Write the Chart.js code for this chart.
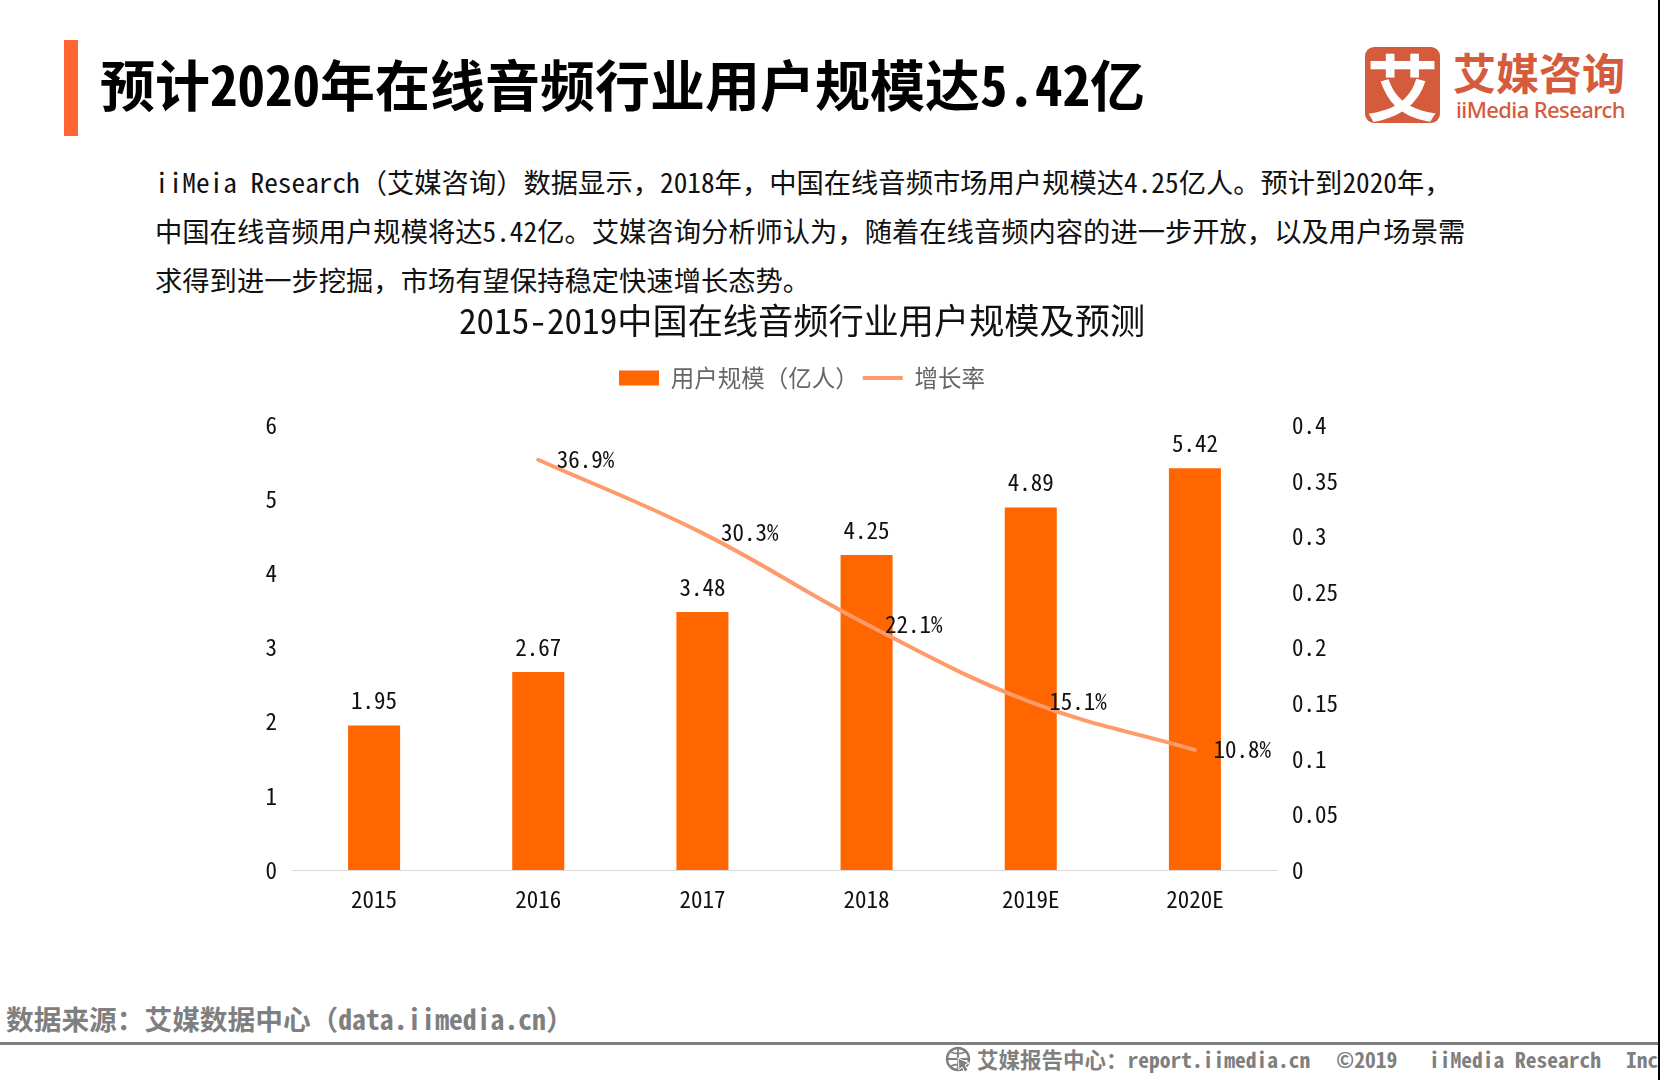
<!DOCTYPE html>
<html>
<head>
<meta charset="utf-8">
<title>2015-2019中国在线音频行业用户规模及预测</title>
<script src="https://cdn.jsdelivr.net/npm/chart.js@4/dist/chart.umd.min.js"></script>
<style>
html, body { margin: 0; padding: 0; background: #fff; }
body { width: 1660px; height: 1080px; position: relative; overflow: hidden; font-family: "Noto Sans Mono CJK SC", "Noto Sans CJK SC", sans-serif; }
.t { position: absolute; white-space: nowrap; }
#bar { position: absolute; left: 64px; top: 40px; width: 14px; height: 96px; background: #ff6633; }
#head { left: 100px; top: 49px; font-size: 55px; line-height: 66px; font-weight: 700; color: #000; }
.body { left: 155px; font-size: 27.3px; line-height: 34px; color: #111; }
#logoBox { position: absolute; left: 1365px; top: 47px; width: 75px; height: 76px; border-radius: 9px; background: #d45b3c; color: #fff; font: 700 72px/74px "Noto Sans CJK SC", sans-serif; text-align: center; }
#logoCn { left: 1453px; top: 42px; font: 700 43px/58px "Noto Sans CJK SC", sans-serif; color: #d45b3c; }
#logoEn { left: 1456px; top: 93px; font: 500 22px/32px "Noto Sans", sans-serif; color: #d45b3c; letter-spacing: -0.6px; }
#chart { position: absolute; left: 0; top: 300px; }
#src { left: 6px; top: 999px; font-size: 27.7px; line-height: 38px; font-weight: 700; color: #7f7f7f; }
#rule { position: absolute; left: 0; top: 1042px; width: 1658px; height: 3px; background: #808080; }
.foot { top: 1045px; font-size: 21.5px; line-height: 28px; font-weight: 700; color: #7f7f7f; }
#edge { position: absolute; left: 1658px; top: 0; width: 2px; height: 1080px; background: #000; }
#globe { position: absolute; left: 945px; top: 1046px; }
</style>
</head>
<body>
<div id="bar"></div>
<div class="t" id="head">预计2020年在线音频行业用户规模达5.42亿</div>
<div id="logoBox">艾</div>
<div class="t" id="logoCn">艾媒咨询</div>
<div class="t" id="logoEn">iiMedia Research</div>
<div class="t body" style="top:164px">iiMeia Research（艾媒咨询）数据显示，2018年，中国在线音频市场用户规模达4.25亿人。预计到2020年，</div>
<div class="t body" style="top:213px">中国在线音频用户规模将达5.42亿。艾媒咨询分析师认为，随着在线音频内容的进一步开放，以及用户场景需</div>
<div class="t body" style="top:262px">求得到进一步挖掘，市场有望保持稳定快速增长态势。</div>
<canvas id="chart" width="1604" height="630"></canvas>
<div class="t" id="src">数据来源：艾媒数据中心（data.iimedia.cn）</div>
<div id="rule"></div>
<svg id="globe" width="27" height="28" viewBox="0 0 27 28">
  <circle cx="13" cy="13" r="11" fill="none" stroke="#7f7f7f" stroke-width="2.4"/>
  <path d="M2 13h22M13 2v22M6 6c4 2 10 2 14 0M6 20c4-2 10-2 14 0" fill="none" stroke="#7f7f7f" stroke-width="1.8"/>
  <path d="M13 12l11 5-4 2 3 5-3 2-3-5-3 3z" fill="#7f7f7f" stroke="#fff"/>
</svg>
<div class="t foot" style="left:977px">艾媒报告中心：report.iimedia.cn</div>
<div class="t foot" style="left:1336px">©2019</div>
<div class="t foot" style="left:1429px">iiMedia Research</div>
<div class="t foot" style="left:1626px">Inc</div>
<div id="edge"></div>
<script>
var categories = ["2015", "2016", "2017", "2018", "2019E", "2020E"];
var userValues = [1.95, 2.67, 3.48, 4.25, 4.89, 5.42];
var growthValues = [null, 0.369, 0.303, 0.221, 0.151, 0.108];
var userLabels = ["1.95", "2.67", "3.48", "4.25", "4.89", "5.42"];
var growthLabels = ["", "36.9%", "30.3%", "22.1%", "15.1%", "10.8%"];
var seriesNames = ["用户规模（亿人）", "增长率"];

var monoFont = '"Noto Sans Mono CJK SC", "Noto Sans CJK SC", sans-serif';
var legendGapBelow = 25.5;

// no datalabels plugin here, labels are drawn from the elements
var valueLabels = {
    id: "valueLabels",
    beforeLayout: function (chart) {
        // extra room between legend and plot, legend padding would also spread the items
        var legend = chart.legend;
        if (legend.gapAdded) return;
        var fit = legend.fit;
        legend.fit = function () {
            fit.call(this);
            this.height += legendGapBelow;
        };
        legend.gapAdded = true;
    },
    afterDatasetsDraw: function (chart) {
        var ctx = chart.ctx;
        ctx.save();
        ctx.font = "23px " + monoFont;
        ctx.fillStyle = "#111";
        ctx.textBaseline = "middle";
        ctx.textAlign = "center";
        chart.getDatasetMeta(1).data.forEach(function (el, i) {
            ctx.fillText(userLabels[i], el.x, el.y - 25);
        });
        ctx.textAlign = "left";
        chart.getDatasetMeta(0).data.forEach(function (el, i) {
            if (growthValues[i] !== null) ctx.fillText(growthLabels[i], el.x + 18.5, el.y - 0.5);
        });
        ctx.restore();
    }
};

new Chart(document.getElementById("chart"), {
    type: "bar",
    data: {
        labels: categories,
        datasets: [{
            type: "line",
            label: seriesNames[1],
            data: growthValues,
            yAxisID: "y1",
            order: 1,
            borderColor: "#ff9a6b",
            backgroundColor: "#ff9a6b",
            borderWidth: 4,
            borderCapStyle: "round",
            tension: 0.4,
            pointRadius: 0
        }, {
            label: seriesNames[0],
            data: userValues,
            yAxisID: "y",
            order: 2,
            backgroundColor: "#ff6600",
            borderWidth: 0,
            barPercentage: 0.317,
            categoryPercentage: 1
        }]
    },
    options: {
        responsive: false,
        animation: false,
        plugins: {
            title: {
                display: true,
                text: "2015-2019中国在线音频行业用户规模及预测",
                color: "#111",
                font: {family: monoFont, size: 35.2, weight: "400"},
                padding: {top: 0, bottom: 20}
            },
            legend: {
                position: "top",
                labels: {
                    color: "#666",
                    font: {family: monoFont, size: 23.5},
                    boxHeight: 15,
                    usePointStyle: true,
                    pointStyleWidth: 40,
                    padding: 4,
                    generateLabels: function (chart) {
                        var items = Chart.defaults.plugins.legend.labels.generateLabels(chart);
                        items.sort(function (a, b) { return b.datasetIndex - a.datasetIndex; });
                        items[0].pointStyle = "rect";
                        items[0].lineWidth = 0;
                        items[1].pointStyle = "line";
                        items[1].lineWidth = 4;
                        return items;
                    }
                }
            },
            tooltip: {enabled: false}
        },
        scales: {
            x: {
                grid: {display: false, drawTicks: false},
                border: {color: "#d9d9d9", width: 1},
                ticks: {color: "#111", font: {family: monoFont, size: 23}, padding: 15, maxRotation: 0},
                afterFit: function (s) { s.height = 60; }
            },
            y: {
                position: "left",
                min: 0,
                max: 6,
                grid: {display: false, drawTicks: false},
                border: {display: false},
                ticks: {stepSize: 1, color: "#111", font: {family: monoFont, size: 23}, padding: 15},
                afterFit: function (s) { s.width = 292; }
            },
            y1: {
                position: "right",
                min: 0,
                max: 0.4,
                grid: {display: false, drawTicks: false},
                border: {display: false},
                ticks: {
                    stepSize: 0.05,
                    color: "#111",
                    font: {family: monoFont, size: 23},
                    padding: 15,
                    callback: function (v) { return String(+v.toFixed(2)); }
                },
                afterFit: function (s) { s.width = 327; }
            }
        }
    },
    plugins: [valueLabels]
});
</script>
</body>
</html>
